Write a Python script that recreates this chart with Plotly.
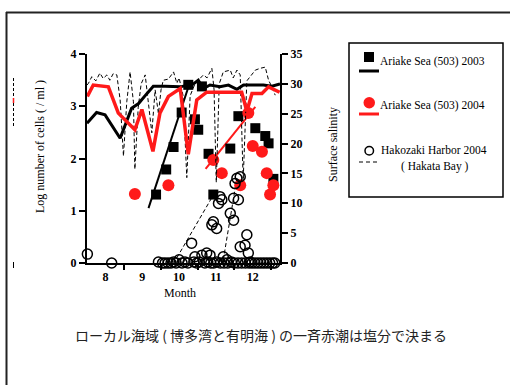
import plotly.graph_objects as go

# ---------------- data ----------------
month_tick_vals = [8.5, 9.5, 10.5, 11.5, 12.5]
month_tick_text = ["8", "9", "10", "11", "12"]
month_bounds = [9, 10, 11, 12, 13]

# Ariake Sea (503) 2003 - cell density (log), black squares
ar03_cells_m = [9.875, 10.15, 10.35, 10.57, 10.75, 10.93, 11.02, 11.12, 11.30, 11.43,
                11.89, 12.11, 12.57, 12.84, 12.93, 13.06]
ar03_cells_v = [1.31, 1.79, 2.22, 2.88, 3.41, 2.75, 2.55, 3.38, 2.09, 1.31,
                2.19, 2.81, 2.58, 2.43, 2.29, 1.61]

# Ariake Sea (503) 2004 - cell density (log), red dots
ar04_cells_m = [9.30, 10.21, 11.43, 11.66, 12.16, 12.38, 12.50, 12.75, 12.88, 12.97, 13.06]
ar04_cells_v = [1.32, 1.49, 1.97, 1.72, 1.49, 2.87, 2.24, 2.13, 1.72, 1.31, 1.49]

# Hakozaki Harbor 2004 - cell density (log), open circles
hk_cells_m = [8.01, 8.67, 9.94, 10.05, 10.12, 10.20, 10.28, 10.35, 10.42, 10.50, 10.58,
              10.66, 10.74, 10.84, 10.90, 10.93, 10.98, 11.05, 11.12, 11.20, 11.25, 11.28,
              11.34, 11.36, 11.39, 11.43, 11.44, 11.52, 11.52, 11.57, 11.61, 11.62, 11.66,
              11.70, 11.72, 11.80, 11.82, 11.89, 11.92, 11.98, 11.98, 12.00, 12.02, 12.07,
              12.10, 12.11, 12.16, 12.16, 12.20, 12.29, 12.30, 12.34, 12.38, 12.40, 12.43,
              12.48, 12.56, 12.64, 12.72, 12.80, 12.88, 12.96, 13.04, 13.10]
hk_cells_v = [0.17, 0.00, 0.02, 0.00, 0.00, 0.00, 0.00, 0.02, 0.00, 0.06, 0.00,
              0.02, 0.00, 0.38, 0.02, 0.12, 0.00, 0.02, 0.15, 0.00, 0.19, 0.02,
              0.15, 0.00, 0.73, 0.79, 0.00, 0.66, 0.02, 1.14, 1.27, 0.00, 1.21,
              0.12, 0.00, 0.06, 0.00, 0.95, 0.02, 0.82, 1.24, 0.00, 1.52, 1.62,
              0.00, 1.21, 0.31, 1.65, 0.00, 0.34, 0.00, 0.54, 0.19, 0.00, 0.02,
              0.00, 0.00, 0.00, 0.00, 0.00, 0.00, 0.00, 0.00, 0.00]

# Surface salinity, Ariake Sea 2003 (black solid)
ar03_sal_m = [8.00, 8.26, 8.49, 8.90, 9.21, 9.40, 9.63, 9.80, 10.12, 10.53, 10.89,
              11.02, 11.16, 11.34, 11.61, 11.84, 12.07, 12.25, 12.79, 13.02, 13.24]
ar03_sal_s = [23.4, 25.2, 24.8, 20.9, 25.9, 26.7, 28.4, 29.6, 29.6, 29.5, 30.0,
              30.6, 29.2, 29.8, 29.5, 29.8, 29.1, 29.8, 29.8, 29.6, 30.0]

# Surface salinity, Ariake Sea 2004 (red solid)
ar04_sal_m = [8.01, 8.17, 8.58, 8.85, 9.30, 9.49, 9.79, 9.98, 10.21, 10.53, 10.75,
              10.98, 11.25, 12.20, 12.34, 12.48, 12.75, 12.93, 13.23]
ar04_sal_s = [27.9, 29.8, 29.5, 25.1, 22.3, 25.7, 18.7, 25.1, 27.9, 29.2, 18.2,
              27.3, 28.6, 28.6, 25.4, 28.4, 28.4, 29.5, 28.6]

# Surface salinity, Hakozaki Harbor 2004 (black dashed)
hk_sal_m = [8.00, 8.04, 8.13, 8.24, 8.35, 8.44, 8.54, 8.62, 8.71, 8.81, 8.90, 8.99,
            9.08, 9.17, 9.26, 9.30, 9.39, 9.47, 9.58, 9.67, 9.76, 9.85, 9.94, 10.01,
            10.07, 10.21, 10.35, 10.44, 10.50, 10.61, 10.71, 10.80, 10.93, 11.16, 11.26,
            11.39, 11.45, 11.51, 11.59, 11.70, 11.89, 11.97, 12.07, 12.16, 12.24, 12.34,
            12.48, 12.57, 12.70, 12.84, 12.93, 13.02, 13.11]
hk_sal_s = [29.8, 30.1, 31.2, 30.5, 31.8, 30.9, 31.5, 30.6, 31.7, 31.5, 27.3, 17.9,
            27.0, 32.0, 27.0, 15.7, 26.0, 30.0, 31.5, 27.0, 21.8, 29.0, 25.0, 29.0,
            30.6, 30.8, 32.0, 30.1, 31.0, 28.0, 14.3, 28.0, 30.0, 31.5, 31.0,
            32.6, 29.0, 13.5, 30.0, 32.0, 32.3, 31.0, 32.3, 31.5, 13.8, 30.5,
            31.7, 32.3, 32.6, 32.8, 30.6, 29.5, 28.1]

# Trend lines drawn through the blooms (cells, log)
ar03_trend_m = [9.67, 10.80]
ar03_trend_v = [1.05, 3.47]
ar04_trend_m = [11.22, 12.57]
ar04_trend_v = [1.80, 2.99]
hk_trend1_m = [10.44, 11.43]
hk_trend1_v = [0.10, 1.30]
hk_trend2_m = [11.70, 12.07]
hk_trend2_v = [0.06, 1.63]

legend_labels = ["Ariake Sea (503) 2003", "Ariake Sea (503) 2004",
                 "Hakozaki Harbor 2004", "( Hakata Bay )"]
caption = "ローカル海域 ( 博多湾と有明海 ) の一斉赤潮は塩分で決まる"

# ---------------- figure ----------------
W, H = 510, 385
PL, PR, PT, PB = 87, 280, 54, 263
SERIF = "Liberation Serif, Times New Roman, serif"
DASH = "4px,2.5px"


def px(x):
    return (x - PL) / (PR - PL)


def py(y):
    return (PB - y) / (PB - PT)


fig = go.Figure()

fig.add_trace(go.Scatter(x=hk_sal_m, y=hk_sal_s, yaxis="y2", mode="lines",
                         line=dict(color="black", width=1, dash=DASH), cliponaxis=False))
fig.add_trace(go.Scatter(x=ar03_sal_m, y=ar03_sal_s, yaxis="y2", mode="lines",
                         line=dict(color="black", width=3), cliponaxis=False))
fig.add_trace(go.Scatter(x=ar04_sal_m, y=ar04_sal_s, yaxis="y2", mode="lines",
                         line=dict(color="#ff1a1a", width=3.5), cliponaxis=False))
fig.add_trace(go.Scatter(x=ar03_trend_m, y=ar03_trend_v, mode="lines",
                         line=dict(color="black", width=2), cliponaxis=False))
fig.add_trace(go.Scatter(x=ar04_trend_m, y=ar04_trend_v, mode="lines",
                         line=dict(color="#ff1a1a", width=2), cliponaxis=False))
for tm, tv in ((hk_trend1_m, hk_trend1_v), (hk_trend2_m, hk_trend2_v)):
    fig.add_trace(go.Scatter(x=tm, y=tv, mode="lines",
                             line=dict(color="black", width=1, dash=DASH), cliponaxis=False))
fig.add_trace(go.Scatter(x=ar03_cells_m, y=ar03_cells_v, mode="markers",
                         marker=dict(symbol="square", size=10, color="black"),
                         cliponaxis=False))
fig.add_trace(go.Scatter(x=ar04_cells_m, y=ar04_cells_v, mode="markers",
                         marker=dict(symbol="circle", size=12, color="#ff1a1a"),
                         cliponaxis=False))
fig.add_trace(go.Scatter(x=hk_cells_m, y=hk_cells_v, mode="markers",
                         marker=dict(symbol="circle-open", size=10, color="black",
                                     line=dict(width=1.5, color="black")),
                         cliponaxis=False))

shapes = []
# outer frame (slide border)
shapes.append(dict(type="line", xref="paper", yref="paper", x0=px(6), x1=px(510),
                   y0=py(12.5), y1=py(12.5), line=dict(color="#222", width=2)))
shapes.append(dict(type="line", xref="paper", yref="paper", x0=px(6.5), x1=px(6.5),
                   y0=py(12), y1=py(385), line=dict(color="#222", width=2)))
# small remnants at left edge
shapes.append(dict(type="line", xref="paper", yref="paper", x0=px(13.5), x1=px(13.5),
                   y0=py(78), y1=py(127), line=dict(color="black", width=1, dash="3px,2px")))
shapes.append(dict(type="line", xref="paper", yref="paper", x0=px(13.5), x1=px(13.5),
                   y0=py(98), y1=py(103), line=dict(color="#ff1a1a", width=1.5)))
shapes.append(dict(type="line", xref="paper", yref="paper", x0=px(13.5), x1=px(13.5),
                   y0=py(262), y1=py(268), line=dict(color="black", width=1)))
# legend box
shapes.append(dict(type="rect", xref="paper", yref="paper", x0=px(349), x1=px(503),
                   y0=py(197), y1=py(43), line=dict(color="black", width=1.5)))
shapes.append(dict(type="rect", xref="paper", yref="paper", x0=px(364), x1=px(374),
                   y0=py(62), y1=py(52), fillcolor="black", line=dict(width=0)))
shapes.append(dict(type="line", xref="paper", yref="paper", x0=px(359), x1=px(379),
                   y0=py(71), y1=py(71), line=dict(color="black", width=3)))
shapes.append(dict(type="circle", xref="paper", yref="paper", x0=px(363.5), x1=px(375),
                   y0=py(108.5), y1=py(97), fillcolor="#ff1a1a", line=dict(width=0)))
shapes.append(dict(type="line", xref="paper", yref="paper", x0=px(359), x1=px(379),
                   y0=py(114), y1=py(114), line=dict(color="#ff1a1a", width=3)))
shapes.append(dict(type="circle", xref="paper", yref="paper", x0=px(365), x1=px(373.5),
                   y0=py(155), y1=py(146.5), line=dict(color="black", width=1.5)))
shapes.append(dict(type="line", xref="paper", yref="paper", x0=px(359), x1=px(379),
                   y0=py(162), y1=py(162), line=dict(color="black", width=1, dash="4px,3px")))

ann = []


def add_text(text, x, y, xanchor="center", size=12, angle=0, family=SERIF, color="black"):
    ann.append(dict(text=text, xref="paper", yref="paper", x=px(x), y=py(y),
                    xanchor=xanchor, yanchor="middle", showarrow=False, textangle=angle,
                    font=dict(family=family, size=size, color=color)))


add_text(legend_labels[0], 378, 62, xanchor="left", size=11.5)
add_text(legend_labels[1], 378, 105, xanchor="left", size=11.5)
add_text(legend_labels[2], 379, 150, xanchor="left", size=11.5)
add_text(legend_labels[3], 435, 166, size=11.5)
add_text("Month", 180, 292.5, size=12)
add_text("Log number of cells ( / ml )", 40, 147, size=12, angle=-90)
add_text("Surface salinity", 333, 145, size=12, angle=-90)
add_text(caption, 261, 335, size=14, family="Noto Sans CJK JP", color="#222")

tickfont = dict(family=SERIF, size=12, color="black", weight="bold")

fig.update_layout(
    width=W, height=H,
    margin=dict(l=PL, r=W - PR, t=PT, b=H - PB, pad=0),
    paper_bgcolor="white", plot_bgcolor="white",
    showlegend=False,
    shapes=shapes, annotations=ann,
    xaxis=dict(range=[8, 13.24], showline=True, linecolor="black", linewidth=2,
               tickvals=month_tick_vals, ticktext=month_tick_text, ticks="",
               tickfont=tickfont, showgrid=False, zeroline=False, fixedrange=True,
               ticklabelstandoff=2,
               minor=dict(tickvals=month_bounds, ticks="outside", ticklen=5,
                          tickwidth=1.5, tickcolor="black", showgrid=False)),
    yaxis=dict(range=[0, 4], tickvals=[0, 1, 2, 3, 4], ticks="outside", ticklen=6,
               tickwidth=2, tickcolor="black", showline=True, linecolor="black",
               linewidth=2, showgrid=False, zeroline=False, tickfont=tickfont),
    yaxis2=dict(range=[0, 35], overlaying="y", side="right", tickvals=list(range(0, 36, 5)),
                ticks="outside", ticklen=6, tickwidth=2, tickcolor="black", showline=True,
                linecolor="black", linewidth=2, showgrid=False, zeroline=False,
                tickfont=tickfont),
)

fig.write_html("out.html")
